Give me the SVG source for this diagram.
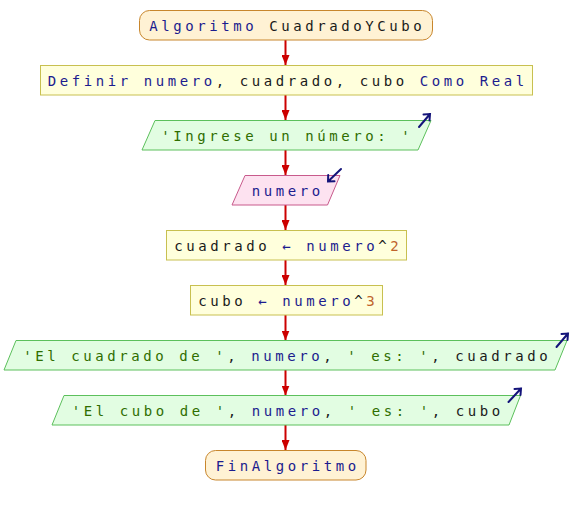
<svg xmlns="http://www.w3.org/2000/svg" width="572" height="515" viewBox="0 0 572 515">
<defs>
<style>
text{font-family:"DejaVu Sans Mono","Liberation Mono",monospace;font-size:14px;letter-spacing:3.57px;text-anchor:middle}
.term{fill:#fff2d4;stroke:#c8862c;stroke-width:1}
.proc{fill:#ffffdc;stroke:#c8c050;stroke-width:1}
.out{fill:#e2fde2;stroke:#5cc05c;stroke-width:1}
.in{fill:#fde2f0;stroke:#c85a8c;stroke-width:1}
.kw{fill:#1c1c8e}
.id{fill:#1c1c8e}
.tx{fill:#1a1a1a}
.st{fill:#2f6e00}
.nm{fill:#c0642c}
.conn{stroke:#cc0000;stroke-width:2;fill:none}
.io{stroke:#14147a;stroke-width:2;fill:none;stroke-linecap:round}
</style>
<marker id="ah" viewBox="0 0 10 8" refX="10" refY="4" markerWidth="10" markerHeight="8" markerUnits="userSpaceOnUse" orient="auto">
<path d="M0,0 L10,4 L0,8 Z" fill="#cc0000"/>
</marker>
</defs>
<g id="connectors">
<line class="conn" x1="285.5" y1="40" x2="285.5" y2="65" marker-end="url(#ah)"/>
<line class="conn" x1="285.5" y1="95" x2="285.5" y2="120" marker-end="url(#ah)"/>
<line class="conn" x1="285.5" y1="150" x2="285.5" y2="175" marker-end="url(#ah)"/>
<line class="conn" x1="285.5" y1="205" x2="285.5" y2="230" marker-end="url(#ah)"/>
<line class="conn" x1="285.5" y1="260" x2="285.5" y2="285" marker-end="url(#ah)"/>
<line class="conn" x1="285.5" y1="315" x2="285.5" y2="340.5" marker-end="url(#ah)"/>
<line class="conn" x1="285.5" y1="370" x2="285.5" y2="395.5" marker-end="url(#ah)"/>
<line class="conn" x1="285.5" y1="425" x2="285.5" y2="450" marker-end="url(#ah)"/>
</g>
<g id="start">
<rect class="term" x="139.5" y="10.5" width="293" height="29.5" rx="10" ry="10"/>
<text x="287.3" y="31"><tspan class="kw">Algoritmo</tspan><tspan class="tx"> CuadradoYCubo</tspan></text>
</g>
<g id="definir">
<rect class="proc" x="40.5" y="65.5" width="492" height="29.5"/>
<text x="287.8" y="86"><tspan class="kw">Definir</tspan><tspan class="id"> numero</tspan><tspan class="tx">, cuadrado, cubo </tspan><tspan class="kw">Como Real</tspan></text>
</g>
<g id="escribir1">
<polygon class="out" points="155,120.5 431,120.5 418,150 142,150"/>
<text class="st" x="287.3" y="141">'Ingrese un número: '</text>
<path class="io" d="M419,127 L430,114 M423.5,114.5 L430,114 L429.5,120.5"/>
</g>
<g id="leer">
<polygon class="in" points="245,175.5 340,175.5 327.5,205 232,205"/>
<text class="id" x="287.8" y="196">numero</text>
<path class="io" d="M341,169 L328,181.5 M328.2,175 L328,181.5 L334.5,181.3"/>
</g>
<g id="asig1">
<rect class="proc" x="166.5" y="230.5" width="240" height="29.5"/>
<text x="288.3" y="251"><tspan class="tx">cuadrado </tspan><tspan class="kw">←</tspan><tspan class="id"> numero</tspan><tspan class="tx">^</tspan><tspan class="nm">2</tspan></text>
</g>
<g id="asig2">
<rect class="proc" x="190.5" y="285.5" width="192" height="29.5"/>
<text x="288.3" y="306"><tspan class="tx">cubo </tspan><tspan class="kw">←</tspan><tspan class="id"> numero</tspan><tspan class="tx">^</tspan><tspan class="nm">3</tspan></text>
</g>
<g id="escribir2">
<polygon class="out" points="16,340.5 567,340.5 555,370 4,370"/>
<text x="287.3" y="361"><tspan class="st">'El cuadrado de '</tspan><tspan class="tx">, </tspan><tspan class="id">numero</tspan><tspan class="tx">, </tspan><tspan class="st">' es: '</tspan><tspan class="tx">, cuadrado</tspan></text>
<path class="io" d="M556.5,347 L568,333.5 M561.5,334 L568,333.5 L567.5,340"/>
</g>
<g id="escribir3">
<polygon class="out" points="64,395.5 520.5,395.5 509,425 52,425"/>
<text x="287.8" y="416"><tspan class="st">'El cubo de '</tspan><tspan class="tx">, </tspan><tspan class="id">numero</tspan><tspan class="tx">, </tspan><tspan class="st">' es: '</tspan><tspan class="tx">, cubo</tspan></text>
<path class="io" d="M508.5,402 L521,388.5 M514.5,389 L521,388.5 L520.5,395"/>
</g>
<g id="fin">
<rect class="term" x="205.5" y="450.5" width="160.5" height="29.5" rx="10" ry="10"/>
<text class="kw" x="287.8" y="471">FinAlgoritmo</text>
</g>
</svg>
